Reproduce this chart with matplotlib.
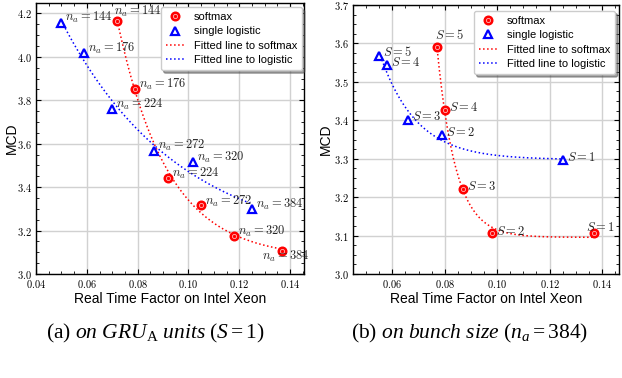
import numpy as np
import matplotlib
matplotlib.use("Agg")
import matplotlib.pyplot as plt
from matplotlib.ticker import MultipleLocator, FuncFormatter
from matplotlib.legend_handler import HandlerTuple

plt.rcParams['mathtext.fontset'] = 'cm'
plt.rcParams['mathtext.rm'] = 'Liberation Serif'
plt.rcParams['mathtext.it'] = 'Liberation Serif:italic'
plt.rcParams['font.family'] = ['Liberation Sans', 'DejaVu Sans']

# ---- data: panel (a) on GRU_A units (S=1)
a_soft_rtf = [0.072, 0.079, 0.092, 0.105, 0.118, 0.137]
a_soft_mcd = [4.165, 3.852, 3.440, 3.319, 3.173, 3.108]
a_log_rtf = [0.050, 0.059, 0.070, 0.0865, 0.102, 0.125]
a_log_mcd = [4.157, 4.016, 3.758, 3.567, 3.517, 3.298]
a_labels = ['144', '176', '224', '272', '320', '384']

# ---- data: panel (b) on bunch size (n_a=384)
b_soft_rtf = [0.137, 0.098, 0.087, 0.080, 0.077]
b_soft_mcd = [3.106, 3.106, 3.222, 3.426, 3.591]
b_log_rtf = [0.125, 0.079, 0.066, 0.058, 0.055]
b_log_mcd = [3.296, 3.361, 3.402, 3.545, 3.567]
b_labels = ['1', '2', '3', '4', '5']

# label offsets (pixels) for annotations
a_soft_off = [(-3, 10, 'left'), (4, 5, 'left'), (4, 5, 'left'), (4, 3, 'left'), (4, 5, 'left'), (3, -6, 'center')]
a_log_off = [(4, 5, 'left'), (4, 5, 'left'), (4, 5, 'left'), (4, 5, 'left'), (4, 4, 'left'), (4, 5, 'left')]
b_soft_off = [(6, 6, 'center'), (4, 2, 'left'), (4, 2, 'left'), (4, 3, 'left'), (-2, 12, 'left')]
b_log_off = [(4, 3, 'left'), (4, 3, 'left'), (4, 3, 'left'), (4, 2, 'left'), (4, 4, 'left')]


def expfit(x, y):
    x = np.asarray(x, float)
    y = np.asarray(y, float)
    best = None
    for b in np.linspace(1, 400, 4000):
        A = np.column_stack([np.exp(-b * x), np.ones_like(x)])
        coef, *_ = np.linalg.lstsq(A, y, rcond=None)
        r = np.sum((A @ coef - y) ** 2)
        if best is None or r < best[0]:
            best = (r, b, coef)
    _, b, coef = best
    xs = np.linspace(x.min(), x.max(), 200)
    return xs, coef[0] * np.exp(-b * xs) + coef[1]


W, H = 622, 378
fig = plt.figure(figsize=(W / 100, H / 100), dpi=100)
axA = fig.add_axes([36 / W, 1 - 274 / H, (304 - 36) / W, (274 - 2.5) / H])
axB = fig.add_axes([353 / W, 1 - 274 / H, (619 - 353) / W, (274 - 5) / H])


def draw(ax, srtf, smcd, lrtf, lmcd, labels, soff, loff, fmt_label, leg_anchor, ylab_x):
    xs, ys = expfit(srtf, smcd)
    ax.plot(xs, ys, color='red', ls=':', lw=1.1, zorder=2)
    xl, yl = expfit(lrtf, lmcd)
    ax.plot(xl, yl, color='blue', ls=':', lw=1.1, zorder=2)
    s1, = ax.plot(srtf, smcd, 'o', ms=6.2, mfc='red', mec='red', ls='none', zorder=4)
    s2, = ax.plot(srtf, smcd, 'o', ms=3.0, mfc='none', mec='#ffb8b8', mew=0.6, ls='none', zorder=5)
    l1, = ax.plot(lrtf, lmcd, '^', ms=5.8, mfc='white', mec='blue', mew=1.6, ls='none', zorder=4)
    for x, y, lab, (dx, dy, ha) in zip(srtf, smcd, labels, soff):
        ax.annotate(fmt_label(lab), (x, y), xytext=(dx, dy), textcoords='offset pixels',
                    ha=ha, va='center', fontsize=9, color='0.15', zorder=6)
    for x, y, lab, (dx, dy, ha) in zip(lrtf, lmcd, labels, loff):
        ax.annotate(fmt_label(lab), (x, y), xytext=(dx, dy), textcoords='offset pixels',
                    ha=ha, va='center', fontsize=9, color='0.15', zorder=6)
    hs = ax.plot([], [], color='red', ls=':', lw=1.1)[0]
    hl = ax.plot([], [], color='blue', ls=':', lw=1.1)[0]
    leg = ax.legend([(s1, s2), l1, hs, hl],
                    ['softmax', 'single logistic', 'Fitted line to softmax', 'Fitted line to logistic'],
                    handler_map={tuple: HandlerTuple(ndivide=1)},
                    loc='upper right', bbox_to_anchor=leg_anchor, borderaxespad=0,
                    fontsize=8, fancybox=True, shadow=True, framealpha=1,
                    edgecolor='0.8', labelspacing=0.4, handlelength=1.7,
                    handletextpad=0.8, borderpad=0.45)
    leg.set_zorder(10)
    ax.grid(True, color='0.82', lw=1.0, zorder=0)
    ax.set_axisbelow(True)
    ax.tick_params(which='both', direction='in', top=True, right=True, labelsize=7.5, pad=3)
    ax.tick_params(which='major', length=3.5, width=0.8)
    ax.tick_params(which='minor', length=2, width=0.6)
    ax.xaxis.set_major_formatter(FuncFormatter(lambda v, p: r'$%.2f$' % v))
    ax.yaxis.set_major_formatter(FuncFormatter(lambda v, p: r'$%.1f$' % v))
    ax.set_xlabel('Real Time Factor on Intel Xeon', fontsize=10, labelpad=1)
    ax.set_ylabel('MCD', fontsize=10)
    ax.yaxis.set_label_coords(ylab_x, 0.5)
    for sp in ax.spines.values():
        sp.set_linewidth(1.0)


draw(axA, a_soft_rtf, a_soft_mcd, a_log_rtf, a_log_mcd, a_labels, a_soft_off, a_log_off,
     lambda s: r'$n_a = %s$' % s, (0.9925, 0.9834), -0.065)
draw(axB, b_soft_rtf, b_soft_mcd, b_log_rtf, b_log_mcd, b_labels, b_soft_off, b_log_off,
     lambda s: r'$S = %s$' % s, (0.985, 0.978), -0.075)

axA.set_xlim(0.04, 0.1455)
axA.set_ylim(3.0, 4.25)
axA.xaxis.set_major_locator(MultipleLocator(0.02))
axA.xaxis.set_minor_locator(MultipleLocator(0.005))
axA.yaxis.set_major_locator(MultipleLocator(0.2))
axA.yaxis.set_minor_locator(MultipleLocator(0.05))

axB.set_xlim(0.045, 0.1465)
axB.set_ylim(3.0, 3.7)
axB.xaxis.set_major_locator(MultipleLocator(0.02))
axB.xaxis.set_minor_locator(MultipleLocator(0.005))
axB.yaxis.set_major_locator(MultipleLocator(0.1))
axB.yaxis.set_minor_locator(MultipleLocator(0.025))

fig.text(155 / W, 1 - 333 / H, r'(a) $\mathit{on\ GRU_{\mathrm{A}}\ units\ (S{=}1)}$',
         ha='center', va='center', fontsize=15.5, family='Liberation Serif', math_fontfamily='custom')
fig.text(470 / W, 1 - 333 / H, r'(b) $\mathit{on\ bunch\ size\ (n_a{=}384)}$',
         ha='center', va='center', fontsize=15.5, family='Liberation Serif', math_fontfamily='custom')

fig.savefig('out.png', dpi=100)
